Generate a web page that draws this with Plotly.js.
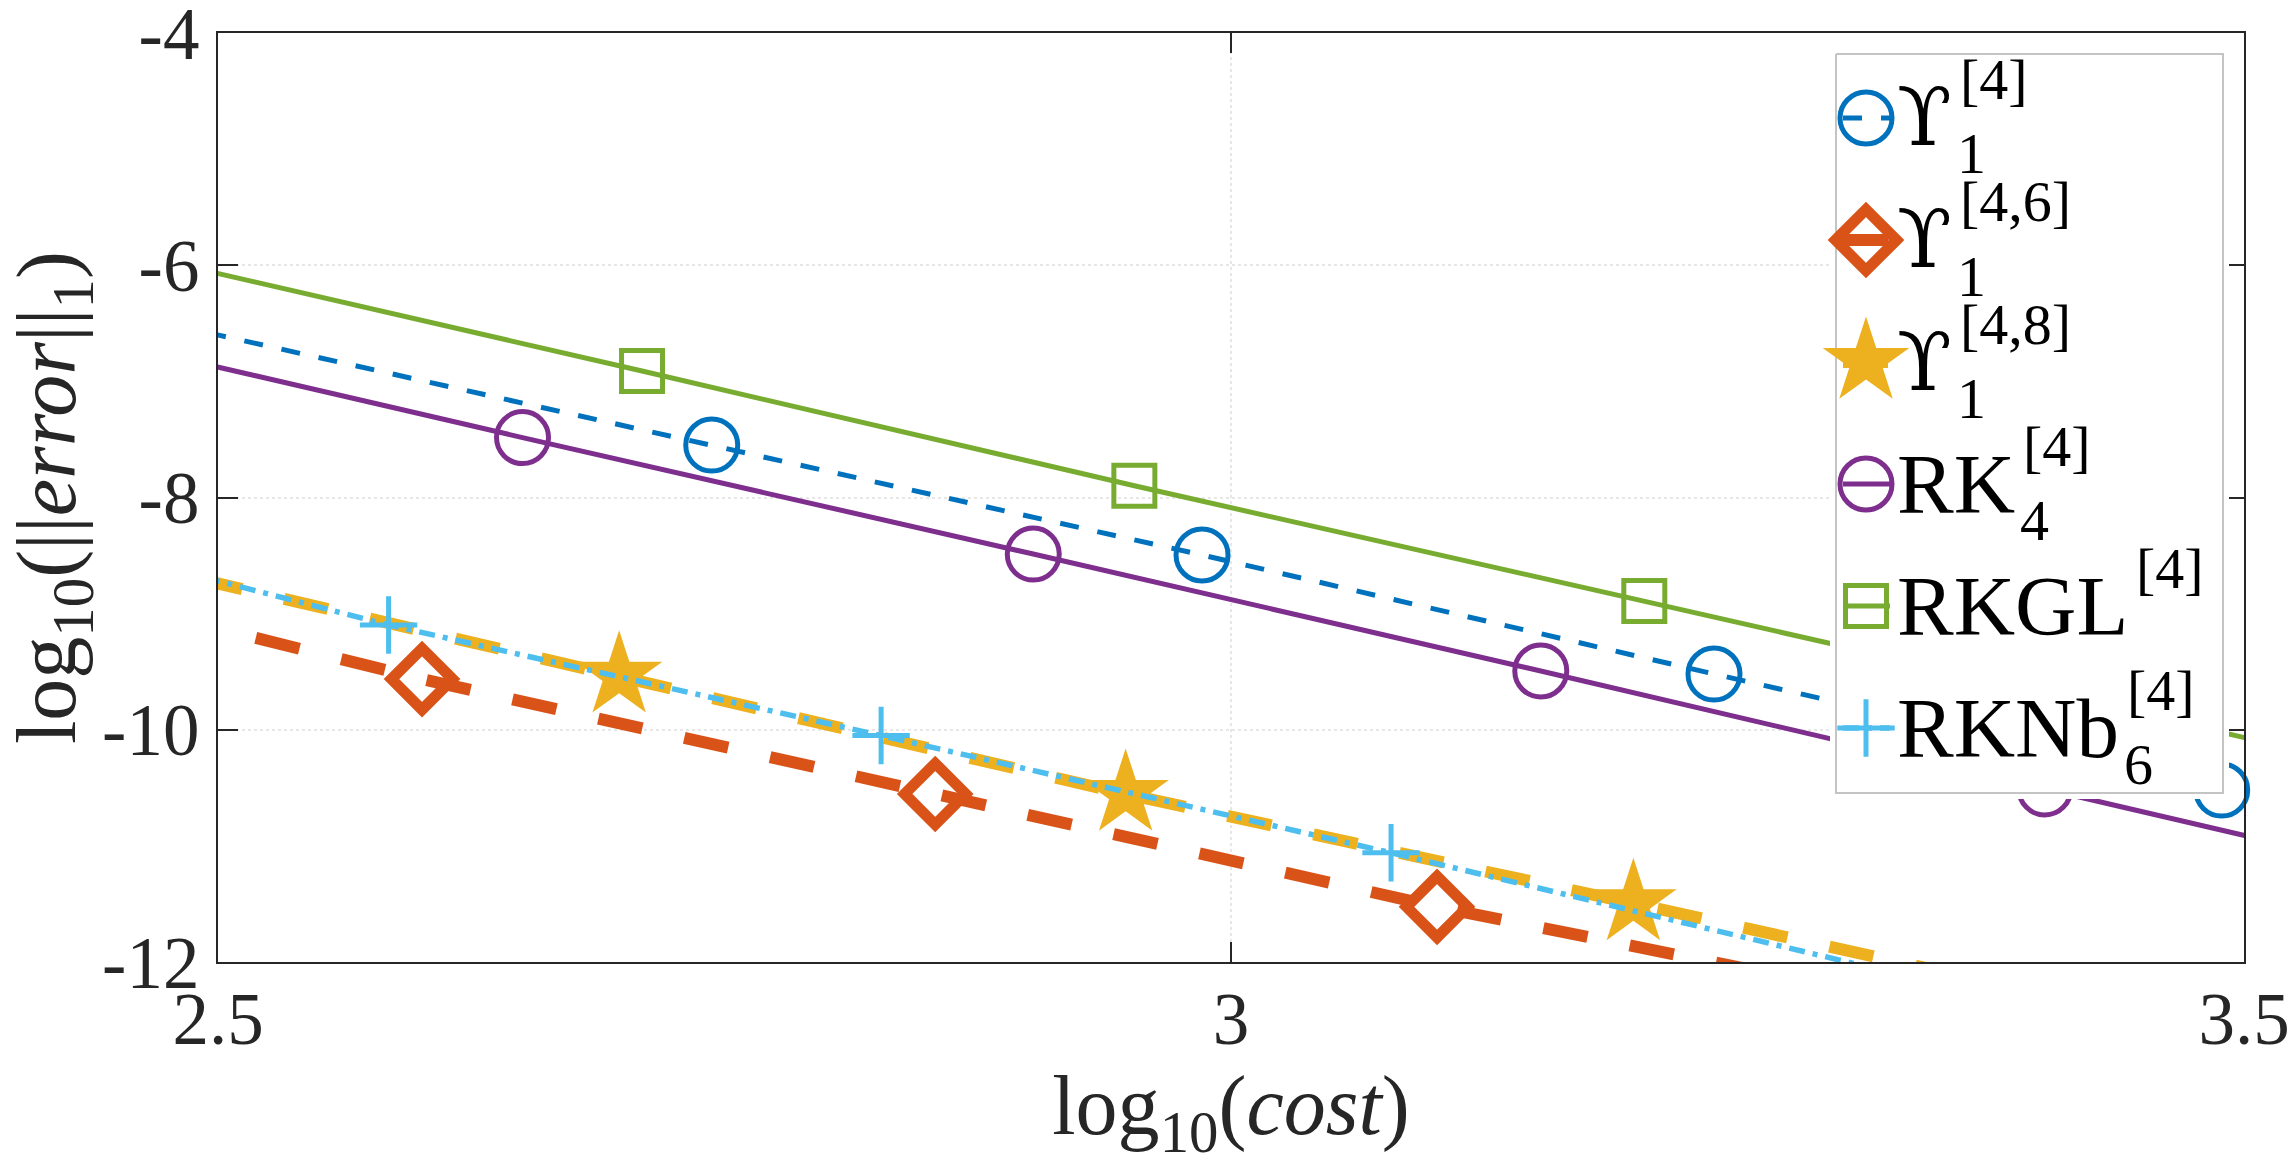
<!DOCTYPE html>
<html>
<head>
<meta charset="utf-8">
<script src="https://cdn.plot.ly/plotly-3.0.1.min.js"></script>
<style>
  html, body { margin: 0; padding: 0; background: #ffffff; }
  #chart { width: 2290px; height: 1165px; }
</style>
</head>
<body>
<div id="chart"></div>
<script>
// Work-precision diagram: log10(cost) against log10(||error||_1)
// for six fourth-order integrators.

// ---- data -------------------------------------------------------------
const ups4X   = [2.4947, 2.7437, 2.9857, 3.2384, 3.4890, 3.7400];
const ups4Y   = [-6.58, -7.548, -8.495, -9.520, -10.519, -11.52];

const ups46X  = [2.3500, 2.6007, 2.8540, 3.1017, 3.3520];
const ups46Y  = [-8.48, -9.564, -10.553, -11.525, -12.40];

const ups48X  = [2.4480, 2.6980, 2.9480, 3.1986, 3.4490];
const ups48Y  = [-8.53, -9.535, -10.553, -11.495, -12.46];

const rk4X    = [2.3993, 2.6503, 2.9024, 3.1529, 3.4017, 3.6550];
const rk4Y    = [-6.47, -7.484, -8.487, -9.494, -10.510, -11.54];

const rkglX   = [2.4623, 2.7093, 2.9523, 3.2040, 3.4560, 3.7000];
const rkglY   = [-5.92, -6.911, -7.899, -8.891, -9.890, -10.87];

const rknbX   = [2.3340, 2.5842, 2.8273, 3.0790, 3.3270];
const rknbY   = [-7.97, -9.098, -10.050, -11.059, -12.095];

// legend labels: base, superscript, subscript
const labelBase = ['\u03D2', '\u03D2', '\u03D2', 'RK', 'RKGL', 'RKNb'];
const labelSup  = ['[4]', '[4,6]', '[4,8]', '[4]', '[4]', '[4]'];
const labelSub  = ['1', '1', '1', '4', '', '6'];

// axis ticks
const xTicks    = [2.5, 3, 3.5];
const xTickText = ['2.5', '3', '3.5'];
const yTicks    = [-12, -10, -8, -6, -4];
const yTickText = ['-12', '-10', '-8', '-6', '-4'];

// ---- styling ----------------------------------------------------------
const seriesX = [ups4X, ups46X, ups48X, rk4X, rkglX, rknbX];
const seriesY = [ups4Y, ups46Y, ups48Y, rk4Y, rkglY, rknbY];

const colors = ['#0072BD', '#D95319', '#EDB120', '#7E2F8E', '#77AC30', '#4DBEEE'];
const styles = [
  { dash: '19px,19px',        width: 5,  symbol: 'circle-open',     size: 52, mline: 5  },
  { dash: '45px,43px',        width: 12, symbol: 'diamond-open',    size: 47, mline: 11 },
  { dash: '45px,43px',        width: 12, symbol: 'star',            size: 65, mline: 0  },
  { dash: 'solid',            width: 5,  symbol: 'circle-open',     size: 52, mline: 5  },
  { dash: 'solid',            width: 5,  symbol: 'square-open',     size: 41, mline: 5  },
  { dash: '16px,8px,5px,8px', width: 5.5, symbol: 'cross-thin-open', size: 41, mline: 5 }
];

const W = 2290, H = 1165;
const M = { l: 218, r: 46, t: 33, b: 203 };
const PW = W - M.l - M.r;
const PH = H - M.t - M.b;
const px2x = px => (px - M.l) / PW;
const py2y = py => (H - M.b - py) / PH;

const SERIF = 'Liberation Serif, serif';
const UPS_FONT = 'DejaVu Serif';
const INK = '#262626';

// ---- main traces ------------------------------------------------------
const traces = seriesX.map((x, i) => ({
  type: 'scatter',
  mode: 'lines+markers',
  x: x,
  y: seriesY[i],
  xaxis: 'x', yaxis: 'y',
  cliponaxis: false,
  showlegend: false,
  hoverinfo: 'skip',
  line: { color: colors[i], width: styles[i].width, dash: styles[i].dash },
  marker: {
    symbol: styles[i].symbol,
    size: styles[i].size,
    color: colors[i],
    line: { color: colors[i], width: styles[i].mline }
  }
}));

// ---- legend panel (drawn on its own small axes) -----------------------
const LEG = { left: 1836, top: 54, w: 387, h: 739, pad: 6 };
const rowY = i => 64 + 122 * i;       // row centres inside the panel
const keyX = [7, 30, 54];              // line sample with marker in the middle

traces.push({
  type: 'scatter', mode: 'lines',
  x: [0, LEG.w, LEG.w, 0, 0],
  y: [0, 0, LEG.h, LEG.h, 0],
  xaxis: 'x2', yaxis: 'y2',
  fill: 'toself', fillcolor: '#ffffff',
  line: { color: '#c4c4c4', width: 2 },
  showlegend: false, hoverinfo: 'skip'
});

labelBase.forEach((_, i) => {
  traces.push({
    type: 'scatter', mode: 'lines+markers',
    x: keyX,
    y: keyX.map(() => rowY(i)),
    xaxis: 'x2', yaxis: 'y2',
    cliponaxis: false,
    showlegend: false, hoverinfo: 'skip',
    line: { color: colors[i], width: styles[i].width, dash: styles[i].dash },
    marker: {
      symbol: styles[i].symbol,
      size: styles[i].size,
      color: colors[i],
      opacity: [0, 1, 0],
      line: { color: colors[i], width: styles[i].mline }
    }
  });
});

// legend text with stacked super/subscripts
const ctx = document.createElement('canvas').getContext('2d');
function textWidth(txt, size, family) {
  ctx.font = size + 'px ' + family;
  return ctx.measureText(txt).width;
}

const annotations = [];
labelBase.forEach((base, i) => {
  const isUps = base === '\u03D2';
  const fam = isUps ? UPS_FONT : 'Liberation Serif';
  const size = isUps ? 80 : 85;
  const x0 = 61;
  const bw = textWidth(base, size, "'" + fam + "'");
  const common = {
    xref: 'x2', yref: 'y2', xanchor: 'left', yanchor: 'middle',
    showarrow: false, borderpad: 0, borderwidth: 0
  };
  annotations.push(Object.assign({}, common, {
    x: x0, y: rowY(i), text: base,
    font: { family: fam, size: size, color: '#000000' }
  }));
  annotations.push(Object.assign({}, common, {
    x: x0 + bw + 8, y: rowY(i) - 38, text: labelSup[i],
    font: { family: SERIF, size: 58, color: '#000000' }
  }));
  if (labelSub[i]) {
    annotations.push(Object.assign({}, common, {
      x: x0 + bw + 5, y: rowY(i) + 36, text: labelSub[i],
      font: { family: SERIF, size: 58, color: '#000000' }
    }));
  }
});

// ---- layout -----------------------------------------------------------
const axisCommon = {
  showline: true, linecolor: INK, linewidth: 2,
  mirror: 'ticks',
  ticks: 'inside', ticklen: 20, tickwidth: 2, tickcolor: INK,
  showgrid: true, gridcolor: 'rgba(38,38,38,0.11)', gridwidth: 2, griddash: 'dot',
  zeroline: false,
  tickfont: { family: SERIF, size: 73, color: INK },
  ticklabeloverflow: 'allow',
  automargin: false,
  fixedrange: true
};

const layout = {
  width: W, height: H,
  margin: { l: M.l, r: M.r, t: M.t, b: M.b, pad: 0 },
  paper_bgcolor: '#ffffff',
  plot_bgcolor: '#ffffff',
  showlegend: false,
  font: { family: SERIF, color: INK },
  xaxis: Object.assign({}, axisCommon, {
    domain: [0, 1],
    range: [2.5, 3.5],
    tickmode: 'array', tickvals: xTicks, ticktext: xTickText,
    ticklabelstandoff: -8,
    title: { text: 'log<sub>10</sub>(<i>cost</i>)', font: { family: SERIF, size: 84, color: INK }, standoff: 22 }
  }),
  yaxis: Object.assign({}, axisCommon, {
    domain: [0, 1],
    range: [-12, -4],
    tickmode: 'array', tickvals: yTicks, ticktext: yTickText,
    ticklabelstandoff: 2,
    title: { text: 'log<sub>10</sub>(||<i>error</i>||<sub>1</sub>)', font: { family: SERIF, size: 84, color: INK }, standoff: 20 }
  }),
  xaxis2: {
    domain: [px2x(LEG.left - LEG.pad), px2x(LEG.left + LEG.w + LEG.pad)],
    range: [-LEG.pad, LEG.w + LEG.pad],
    anchor: 'y2', visible: false, fixedrange: true
  },
  yaxis2: {
    domain: [py2y(LEG.top + LEG.h + LEG.pad), py2y(LEG.top - LEG.pad)],
    range: [LEG.h + LEG.pad, -LEG.pad],
    anchor: 'x2', visible: false, fixedrange: true
  },
  annotations: annotations
};

Plotly.newPlot('chart', traces, layout, { staticPlot: true, displayModeBar: false });
</script>
</body>
</html>
